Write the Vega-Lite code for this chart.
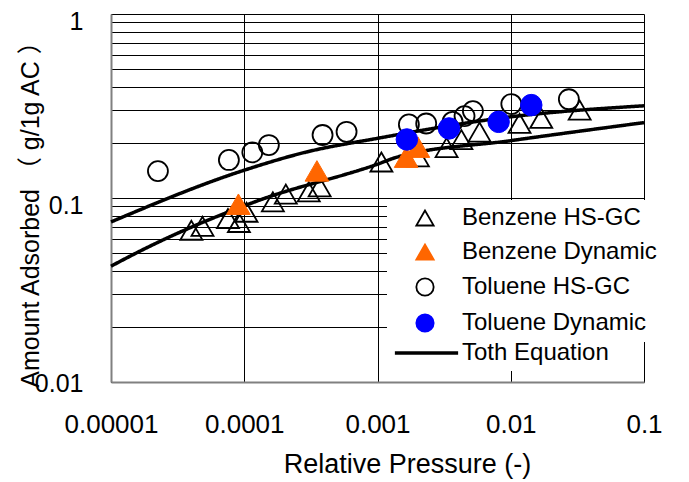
{
  "$schema": "https://vega.github.io/schema/vega-lite/v6.json",
  "width": 533,
  "height": 368,
  "autosize": {"type": "none"},
  "padding": {"left": 111, "top": 14, "right": 45, "bottom": 100},
  "background": "white",
  "config": {
    "font": "Liberation Sans, Noto Sans CJK JP, sans-serif",
    "view": {"stroke": null}
  },
  "datasets": {
    "pts": [
      {"series": "Benzene HS-GC", "x": 0.0000401, "y": 0.0668},
      {"series": "Benzene HS-GC", "x": 0.0000486, "y": 0.0702},
      {"series": "Benzene HS-GC", "x": 0.0000755, "y": 0.0773},
      {"series": "Benzene HS-GC", "x": 0.0000912, "y": 0.0736},
      {"series": "Benzene HS-GC", "x": 0.000104, "y": 0.0837},
      {"series": "Benzene HS-GC", "x": 0.000164, "y": 0.0953},
      {"series": "Benzene HS-GC", "x": 0.000205, "y": 0.105},
      {"series": "Benzene HS-GC", "x": 0.000305, "y": 0.108},
      {"series": "Benzene HS-GC", "x": 0.000368, "y": 0.115},
      {"series": "Benzene HS-GC", "x": 0.00107, "y": 0.157},
      {"series": "Benzene HS-GC", "x": 0.00201, "y": 0.1674},
      {"series": "Benzene HS-GC", "x": 0.0033, "y": 0.1878},
      {"series": "Benzene HS-GC", "x": 0.00426, "y": 0.2076},
      {"series": "Benzene HS-GC", "x": 0.00583, "y": 0.228},
      {"series": "Benzene HS-GC", "x": 0.01164, "y": 0.2543},
      {"series": "Benzene HS-GC", "x": 0.01694, "y": 0.2707},
      {"series": "Benzene HS-GC", "x": 0.0329, "y": 0.3004},
      {"series": "Toluene HS-GC", "x": 0.0000225, "y": 0.140},
      {"series": "Toluene HS-GC", "x": 0.0000767, "y": 0.161},
      {"series": "Toluene HS-GC", "x": 0.000115, "y": 0.177},
      {"series": "Toluene HS-GC", "x": 0.000153, "y": 0.194},
      {"series": "Toluene HS-GC", "x": 0.000387, "y": 0.220},
      {"series": "Toluene HS-GC", "x": 0.000586, "y": 0.229},
      {"series": "Toluene HS-GC", "x": 0.00172, "y": 0.251},
      {"series": "Toluene HS-GC", "x": 0.00232, "y": 0.254},
      {"series": "Toluene HS-GC", "x": 0.00366, "y": 0.2594},
      {"series": "Toluene HS-GC", "x": 0.0045, "y": 0.2786},
      {"series": "Toluene HS-GC", "x": 0.0052, "y": 0.2967},
      {"series": "Toluene HS-GC", "x": 0.0101, "y": 0.324},
      {"series": "Toluene HS-GC", "x": 0.0273, "y": 0.344}
    ],
    "dyn": [
      {"series": "Benzene Dynamic", "x": 0.0000904, "y": 0.0925},
      {"series": "Benzene Dynamic", "x": 0.000351, "y": 0.1404},
      {"series": "Benzene Dynamic", "x": 0.00164, "y": 0.1667},
      {"series": "Benzene Dynamic", "x": 0.00201, "y": 0.189},
      {"series": "Toluene Dynamic", "x": 0.00166, "y": 0.208},
      {"series": "Toluene Dynamic", "x": 0.00344, "y": 0.2388},
      {"series": "Toluene Dynamic", "x": 0.00811, "y": 0.2594},
      {"series": "Toluene Dynamic", "x": 0.01426, "y": 0.3198}
    ],
    "toth": [
      {"curve": "upper", "x": 0.00001, "y": 0.0741},
      {"curve": "upper", "x": 0.0001, "y": 0.1416},
      {"curve": "upper", "x": 0.00029, "y": 0.1775},
      {"curve": "upper", "x": 0.001, "y": 0.211},
      {"curve": "upper", "x": 0.01, "y": 0.2762},
      {"curve": "upper", "x": 0.1, "y": 0.317},
      {"curve": "lower", "x": 0.00001, "y": 0.0426},
      {"curve": "lower", "x": 0.000017, "y": 0.052},
      {"curve": "lower", "x": 0.00013, "y": 0.0973},
      {"curve": "lower", "x": 0.001, "y": 0.1527},
      {"curve": "lower", "x": 0.0014, "y": 0.1667},
      {"curve": "lower", "x": 0.01, "y": 0.205},
      {"curve": "lower", "x": 0.1, "y": 0.2569}
    ]
  },
  "layer": [
    {
      "data": {"name": "pts"},
      "mark": {"type": "point", "opacity": 1, "strokeWidth": 1.8},
      "encoding": {
        "x": {
          "field": "x", "type": "quantitative",
          "scale": {"type": "log", "domain": [0.00001, 0.1], "nice": false},
          "axis": {
            "values": [0.00001, 0.0001, 0.001, 0.01, 0.1],
            "format": ".5~f",
            "grid": true, "gridColor": "black", "gridWidth": 1, "gridOpacity": 1,
            "ticks": false, "tickSize": 0,
            "domainColor": "#808080", "domainWidth": 2,
            "labelFontSize": 26, "labelColor": "black", "labelPadding": 29,
            "labelFlush": false, "labelOverlap": false,
            "title": "Relative Pressure (-)",
            "titleFontSize": 27, "titleFontWeight": "normal", "titleColor": "black",
            "titleX": 296, "titleY": 90, "titleBaseline": "alphabetic", "titleAlign": "center"
          }
        },
        "y": {
          "field": "y", "type": "quantitative",
          "scale": {"type": "log", "domain": [0.01, 1], "nice": false},
          "axis": {
            "values": [0.01, 0.02, 0.03, 0.04, 0.05, 0.06, 0.07, 0.08, 0.09, 0.1, 0.2, 0.3, 0.4, 0.5, 0.6, 0.7, 0.8, 0.9, 1],
            "labelExpr": "datum.value == 1 ? '1' : datum.value == 0.1 ? '0.1' : datum.value == 0.01 ? '0.01' : ''",
            "grid": true, "gridColor": "black", "gridWidth": 1, "gridOpacity": 1,
            "ticks": false, "tickSize": 0,
            "domainColor": "#808080", "domainWidth": 2,
            "labelFontSize": 25, "labelColor": "black", "labelPadding": 28,
            "labelOffset": {"condition": {"test": "datum.value == 0.01", "value": 1}, "value": 7},
            "labelFlush": false, "labelOverlap": false,
            "title": "Amount Adsorbed  （ g/1g AC  ）",
            "titleFontSize": 25, "titleFontWeight": "normal", "titleColor": "black",
            "titleX": -73, "titleY": 194, "titleBaseline": "alphabetic", "titleAlign": "center"
          }
        },
        "shape": {
          "field": "series", "type": "nominal",
          "scale": {"domain": ["Benzene HS-GC", "Benzene Dynamic", "Toluene HS-GC", "Toluene Dynamic"],
                    "range": ["triangle-up", "triangle-up", "circle", "circle"]},
          "legend": {
            "title": null, "orient": "none", "legendX": 276, "legendY": 186,
            "fillColor": "white", "padding": 6, "rowPadding": 10,
            "labelFontSize": 24, "labelColor": "black", "labelLimit": 400, "labelOffset": 25,
            "symbolSize": 300, "symbolStrokeWidth": 1.8, "symbolOffset": 20
          }
        },
        "fill": {
          "field": "series", "type": "nominal",
          "scale": {"domain": ["Benzene HS-GC", "Benzene Dynamic", "Toluene HS-GC", "Toluene Dynamic"],
                    "range": ["transparent", "#FF6600", "transparent", "#0000FF"]},
          "legend": null
        },
        "stroke": {
          "field": "series", "type": "nominal",
          "scale": {"domain": ["Benzene HS-GC", "Benzene Dynamic", "Toluene HS-GC", "Toluene Dynamic"],
                    "range": ["black", "#FF6600", "black", "#0000FF"]},
          "legend": null
        },
        "size": {
          "condition": {"test": "datum.series == 'Toluene HS-GC'", "value": 400},
          "value": 484
        }
      }
    },
    {
      "data": {"name": "toth"},
      "mark": {"type": "line", "color": "black", "strokeWidth": 3.5, "interpolate": "monotone"},
      "encoding": {
        "x": {"field": "x", "type": "quantitative"},
        "y": {"field": "y", "type": "quantitative"},
        "detail": {"field": "curve", "type": "nominal"},
        "strokeDash": {
          "datum": "Toth Equation", "type": "nominal",
          "scale": {"range": [[1, 0]]},
          "legend": {
            "title": null, "orient": "none", "legendX": 276, "legendY": 321,
            "fillColor": "white", "padding": 6, "clipHeight": 24,
            "labelFontSize": 24, "labelColor": "black", "labelLimit": 400, "labelOffset": 2,
            "labelExpr": "datum.label + '\u00a0\u00a0\u00a0\u00a0\u00a0\u00a0\u00a0\u00a0\u00a0\u00a0'",
            "symbolType": "stroke", "symbolSize": 4000, "symbolStrokeWidth": 3.5,
            "symbolStrokeColor": "black"
          }
        }
      }
    },
    {
      "data": {"name": "dyn"},
      "mark": {"type": "point", "opacity": 1, "strokeWidth": 1},
      "encoding": {
        "x": {"field": "x", "type": "quantitative"},
        "y": {"field": "y", "type": "quantitative"},
        "shape": {"field": "series", "type": "nominal"},
        "fill": {"field": "series", "type": "nominal"},
        "stroke": {"field": "series", "type": "nominal"},
        "size": {
          "condition": {"test": "datum.series == 'Benzene Dynamic'", "value": 560},
          "value": 460
        }
      }
    }
  ]
}
